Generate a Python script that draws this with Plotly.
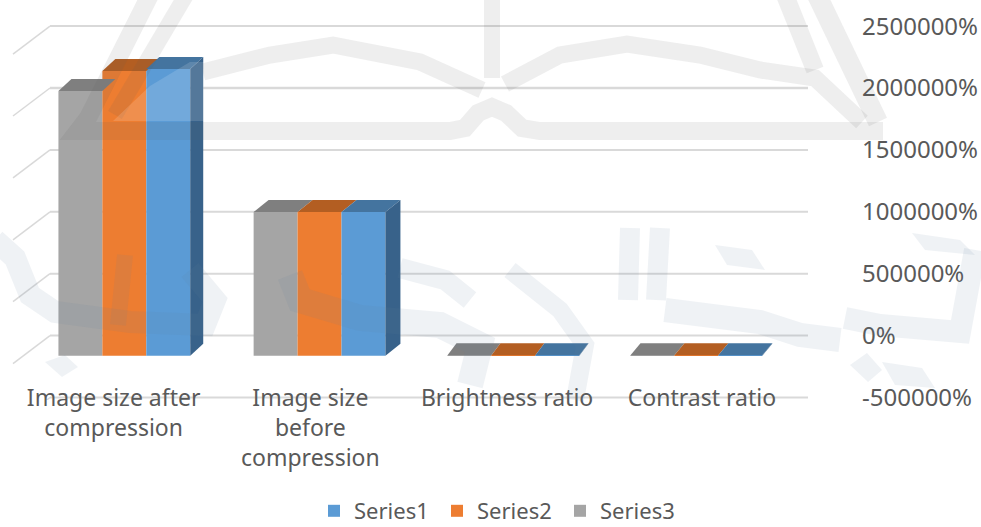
import plotly.graph_objects as go

W, H = 981, 527
categories = ["Image size after<br>compression", "Image size<br>before<br>compression", "Brightness ratio", "Contrast ratio"]
series1 = [1995000, 1000000, 3000, 3000]
series2 = [1981000, 1000000, 3000, 3000]
series3 = [1842000, 1000000, 3000, 3000]
tick_values = [-500000, 0, 500000, 1000000, 1500000, 2000000, 2500000]
tick_labels = ["-500000%", "0%", "500000%", "1000000%", "1500000%", "2000000%", "2500000%"]

colors = {"Series1": "#5B9BD5", "Series2": "#ED7D31", "Series3": "#A5A5A5"}
tops = {"Series1": "#44749F", "Series2": "#B35E22", "Series3": "#7F7F7F"}
SIDE = "#38628A"
FONT = dict(family="Noto Sans", size=23, color="#595959")
TICK_FONT = dict(family="Noto Sans", size=24, color="#595959")

# pixel layout
RIGHT, FLOOR_PX, AXIS_PX = 808, 400, 382
X0_PX, X_STEP = 127, 191
ZERO_WALL, WALL_M = 335.6, 123.8
ZERO_BAR, BAR_M = 355.7, 143.7
BARGAP = 0.31
DEPTH_PX = [13, 15, 9, 10]
LIFT_PX = 12
label_nudge = [-0.07, -0.04, -0.01, 0.01]
group_nudge = [-0.014, 0.008, 0.023, -0.019]


def px(xp):
    return (xp - X0_PX) / X_STEP


fig = go.Figure()
xs = list(range(len(categories)))
bar_x = [x + n for x, n in zip(xs, group_nudge)]
bw = (1 - BARGAP) / 3
group = [("Series3", series3), ("Series2", series2), ("Series1", series1)]
for k, (name, vals) in enumerate(group):
    fig.add_trace(go.Bar(x=[x + (k - 1) * bw for x in bar_x], y=vals, width=bw, name=name,
                         marker=dict(color=colors[name], line_width=0), yaxis="y", hoverinfo="skip"))

dy = LIFT_PX / BAR_M * 1e6
for k, (name, vals) in enumerate(group):
    for i, v in enumerate(vals):
        dx = DEPTH_PX[i] / X_STEP
        a = bar_x[i] + (k - 1.5) * bw
        b = a + bw
        fig.add_trace(go.Scatter(x=[a, b, b + dx, a + dx, a], y=[v, v, v + dy, v + dy, v], fill="toself",
                                 mode="none", fillcolor=tops[name], showlegend=False, hoverinfo="skip", yaxis="y"))
        if k == 2:
            fig.add_trace(go.Scatter(x=[b, b + dx, b + dx, b, b], y=[v, v + dy, dy, 0, v], fill="toself",
                                     mode="none", fillcolor=SIDE, showlegend=False, hoverinfo="skip", yaxis="y"))

shapes = []
wall_left = px(50)
side_dx = 37 / X_STEP
side_dy = 28 / WALL_M * 1e6
for t in tick_values:
    w = 2.5 if t == 2000000 else 2
    shapes.append(dict(type="line", xref="x", yref="y2", x0=wall_left, x1=px(RIGHT), y0=t, y1=t,
                       line=dict(color="#D9D9D9", width=w), layer="below"))
    shapes.append(dict(type="line", xref="x", yref="y2", x0=wall_left, x1=wall_left - side_dx, y0=t, y1=t - side_dy,
                       line=dict(color="#D9D9D9", width=1.5), layer="below"))


def stroke(points, width, color):
    d = "M" + " L".join(f"{x / RIGHT:.4f},{1 - y / H:.4f}" for x, y in points)
    return dict(type="path", xref="paper", yref="paper", path=d,
                line=dict(color=color, width=width), layer="above")


def blob(points, color):
    d = "M" + " L".join(f"{x / RIGHT:.4f},{1 - y / H:.4f}" for x, y in points) + " Z"
    return dict(type="path", xref="paper", yref="paper", path=d, fillcolor=color, line_width=0, layer="above")


ROOF = "rgba(90,90,90,0.10)"
ARAB = "rgba(100,130,160,0.10)"
GLOW = "rgba(255,255,255,0.14)"
roof = [
    ([(150, -5), (88, 118), (78, 131), (450, 131), (465, 128), (478, 113), (492, 107), (506, 113), (522, 128), (540, 131), (883, 131)], 18),
    ([(186, -5), (115, 115)], 16),
    ([(203, 72), (270, 55), (333, 45), (420, 62), (482, 90)], 17),
    ([(505, 84), (560, 55), (627, 44), (700, 55), (760, 70), (815, 78), (862, 122)], 17),
    ([(492, -5), (492, 78)], 16),
    ([(785, -5), (815, 70)], 18),
    ([(817, -5), (878, 122)], 20),
]
for pts, w in roof:
    shapes.append(stroke(pts, w, ROOF))
shapes.append(blob([(113, 121), (204, 121), (204, 62), (190, 62), (150, 86)], GLOW))
arab = [
    ([(-5, 240), (15, 258), (30, 295), (55, 312), (130, 322), (205, 325), (215, 300), (190, 270)], 22),
    ([(125, 255), (118, 325)], 16),
    ([(290, 275), (300, 300), (360, 318), (440, 325), (480, 345), (470, 385)], 26),
    ([(400, 268), (445, 280), (470, 300)], 20),
    ([(510, 270), (560, 310), (585, 345), (575, 400)], 18),
    ([(630, 228), (628, 300)], 20),
    ([(660, 228), (656, 300)], 20),
    ([(665, 310), (760, 322), (800, 335), (840, 340)], 24),
    ([(845, 318), (880, 325), (960, 332), (975, 250)], 22),
]
for pts, w in arab:
    shapes.append(stroke(pts, w, ARAB))
for pts in [
    [(715, 245), (752, 250), (765, 270), (727, 265)],
    [(912, 233), (960, 240), (975, 255), (925, 250)],
    [(850, 365), (867, 353), (882, 370), (868, 382)],
    [(882, 362), (922, 368), (935, 388), (895, 385)],
    [(45, 362), (65, 355), (78, 367), (62, 377)],
]:
    shapes.append(blob(pts, ARAB))

fig.update_layout(
    width=W, height=H, margin=dict(l=0, r=W - RIGHT, t=0, b=0, autoexpand=False),
    paper_bgcolor="white", plot_bgcolor="rgba(0,0,0,0)", font=FONT,
    barmode="overlay", shapes=shapes, hovermode=False,
    xaxis=dict(range=[px(0), px(RIGHT)], tickmode="array", tickvals=[x + n for x, n in zip(xs, label_nudge)],
               ticktext=categories, showgrid=False, zeroline=False, showline=False, ticks="",
               anchor="free", position=1 - AXIS_PX / H, tickfont=FONT),
    yaxis=dict(domain=[1 - FLOOR_PX / H, 1], visible=False,
               range=[(ZERO_BAR - FLOOR_PX) / BAR_M * 1e6, ZERO_BAR / BAR_M * 1e6]),
    yaxis2=dict(domain=[1 - FLOOR_PX / H, 1], overlaying="y", side="right", anchor="x",
                range=[(ZERO_WALL - FLOOR_PX) / WALL_M * 1e6, ZERO_WALL / WALL_M * 1e6],
                tickmode="array", tickvals=tick_values, ticktext=tick_labels, showgrid=False,
                zeroline=False, showline=False, ticks="", ticklabelstandoff=53, tickfont=TICK_FONT),
    legend=dict(orientation="h", x=314 / RIGHT, y=1 - 511 / H, xanchor="left", yanchor="middle",
                traceorder="reversed", itemwidth=30, entrywidth=78, entrywidthmode="pixels",
                bgcolor="rgba(0,0,0,0)", font=dict(family="Noto Sans", size=22, color="#595959")),
)
# an invisible trace on the right-hand axis keeps its tick labels drawn
fig.add_trace(go.Scatter(x=[0], y=[0], yaxis="y2", mode="none", showlegend=False, hoverinfo="skip"))
fig.write_html("out.html", config=dict(displayModeBar=False),
               post_script="document.body.style.margin='0';")
